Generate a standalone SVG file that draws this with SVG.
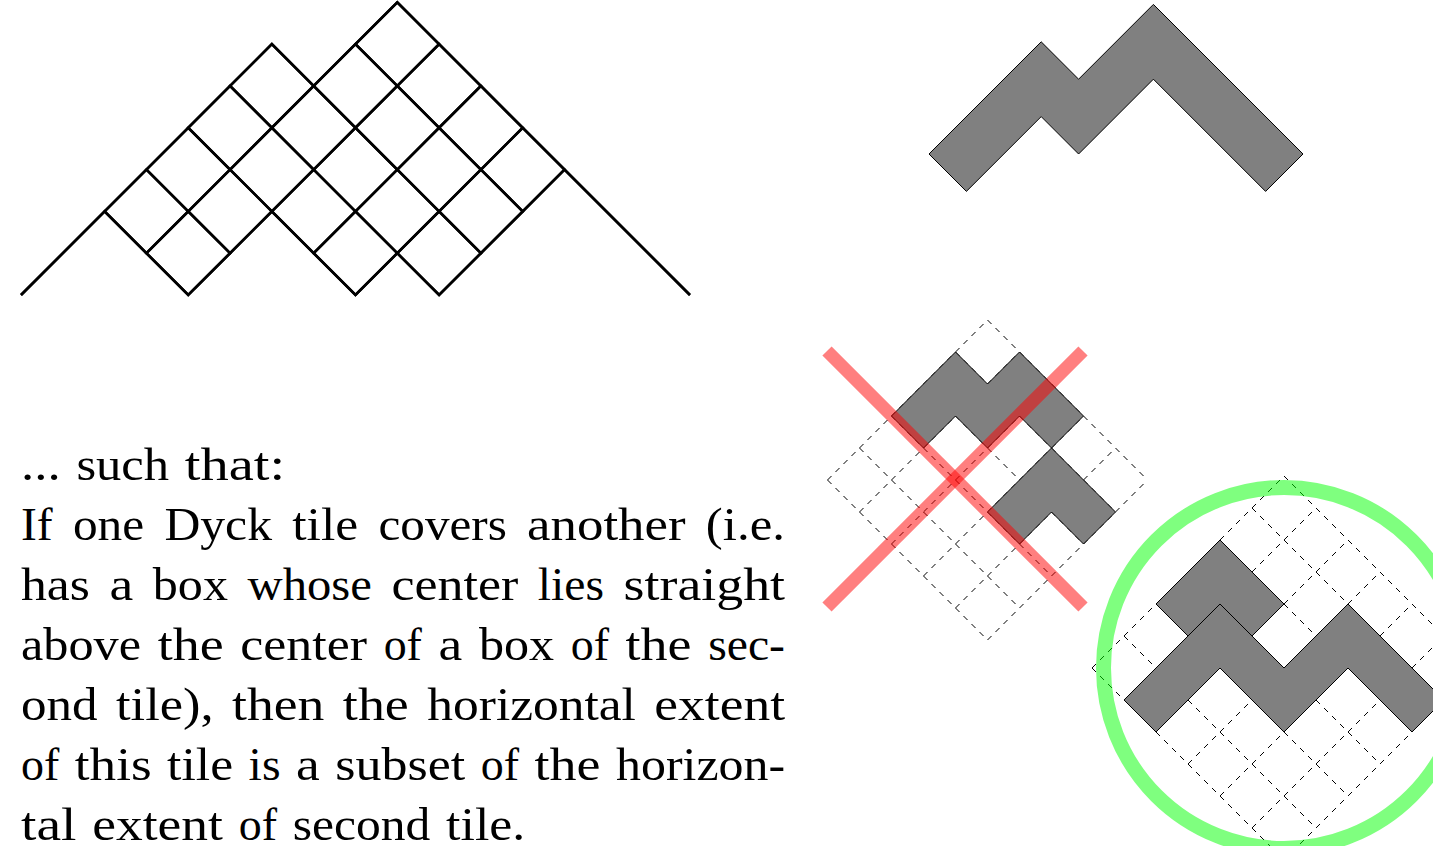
<svg xmlns="http://www.w3.org/2000/svg" width="1433" height="846" viewBox="0 0 1433 846">
<defs>
<path id="cell" d="M-41.81,0 L0,-41.81 L41.81,0 L0,41.81 Z"/>
</defs>
<style>
.lat{fill:none;stroke:#000;stroke-width:2.6;stroke-linejoin:miter;stroke-miterlimit:10}
.tile{fill:#808080;stroke:#000;stroke-width:1;stroke-linejoin:miter}
.grid{fill:none;stroke:#000;stroke-width:1;stroke-dasharray:5.657 5.657}
.cross{stroke:#ff0000;stroke-opacity:0.5;stroke-width:13;stroke-linecap:butt}
.ring{fill:none;stroke:#00ff00;stroke-opacity:0.5;stroke-width:15}
text{font-family:"Liberation Serif","Times New Roman",serif;font-size:47px;fill:#000}
</style>
<rect width="1433" height="846" fill="#fff"/>

<g id="lattice-path" class="lat">
<path d="M21,295 L271.86,44.14 L313.67,85.95 L397.29,2.33 L689.96,295"/>
<path d="M21,295 L104.62,211.38 L188.24,295 L271.86,211.38 L355.48,295 L397.29,253.19 L439.1,295 L564.53,169.57 L689.96,295"/>
<use href="#cell" x="146.43" y="211.38"/>
<use href="#cell" x="188.24" y="253.19"/>
<use href="#cell" x="188.24" y="169.57"/>
<use href="#cell" x="230.05" y="211.38"/>
<use href="#cell" x="230.05" y="127.76"/>
<use href="#cell" x="271.86" y="169.57"/>
<use href="#cell" x="271.86" y="85.95"/>
<use href="#cell" x="313.67" y="211.38"/>
<use href="#cell" x="313.67" y="127.76"/>
<use href="#cell" x="355.48" y="253.19"/>
<use href="#cell" x="355.48" y="169.57"/>
<use href="#cell" x="355.48" y="85.95"/>
<use href="#cell" x="397.29" y="211.38"/>
<use href="#cell" x="397.29" y="127.76"/>
<use href="#cell" x="397.29" y="44.14"/>
<use href="#cell" x="439.1" y="253.19"/>
<use href="#cell" x="439.1" y="169.57"/>
<use href="#cell" x="439.1" y="85.95"/>
<use href="#cell" x="480.91" y="211.38"/>
<use href="#cell" x="480.91" y="127.76"/>
<use href="#cell" x="522.72" y="169.57"/>
</g>

<g id="tile-single">
<path class="tile" d="M929,154 L1041.2,41.8 L1078.6,79.2 L1153.4,4.4 L1303,154 L1265.6,191.4 L1153.4,79.2 L1078.6,154 L1041.2,116.6 L966.4,191.4 Z"/>
</g>

<g id="bad-example">
<path class="grid" d="M827.5,480 l160,-160 M859.5,512 l160,-160 M891.5,544 l160,-160 M923.5,576 l160,-160 M955.5,608 l160,-160 M987.5,640 l160,-160 M827.5,480 l160,160 M859.5,448 l160,160 M891.5,416 l160,160 M923.5,384 l160,160 M955.5,352 l160,160 M987.5,320 l160,160"/>
<path class="tile" d="M891.5,416 L955.5,352 L987.5,384 L1019.5,352 L1083.5,416 L1051.5,448 L1019.5,416 L987.5,448 L955.5,416 L923.5,448 Z"/>
<path class="tile" d="M987.5,512 L1051.5,448 L1115.5,512 L1083.5,544 L1051.5,512 L1019.5,544 Z"/>
<line class="cross" x1="827" y1="351" x2="1083" y2="607"/>
<line class="cross" x1="827" y1="607" x2="1083" y2="351"/>
</g>

<g id="good-example">
<path class="grid" d="M1092,668 l192,-192 M1124,700 l192,-192 M1156,732 l192,-192 M1188,764 l192,-192 M1220,796 l192,-192 M1252,828 l192,-192 M1284,860 l192,-192 M1092,668 l192,192 M1124,636 l192,192 M1156,604 l192,192 M1188,572 l192,192 M1220,540 l192,192 M1252,508 l192,192 M1284,476 l192,192"/>
<path class="tile" d="M1156,604 L1220,540 L1284,604 L1252,636 L1220,604 L1188,636 Z"/>
<path class="tile" d="M1124,700 L1220,604 L1284,668 L1348,604 L1444,700 L1412,732 L1348,668 L1284,732 L1220,668 L1156,732 Z"/>
<circle class="ring" cx="1284" cy="668" r="180.5"/>
</g>

<g id="caption">
<text y="480"><tspan x="21" textLength="39.59" lengthAdjust="spacingAndGlyphs">...</tspan><tspan x="76.42" textLength="92.63" lengthAdjust="spacingAndGlyphs">such</tspan><tspan x="184.88" textLength="100.33" lengthAdjust="spacingAndGlyphs">that:</tspan></text>
<text y="540"><tspan x="21" textLength="31.67" lengthAdjust="spacingAndGlyphs">If</tspan><tspan x="72.93" textLength="71.25" lengthAdjust="spacingAndGlyphs">one</tspan><tspan x="164.44" textLength="107.54" lengthAdjust="spacingAndGlyphs">Dyck</tspan><tspan x="292.24" textLength="65.97" lengthAdjust="spacingAndGlyphs">tile</tspan><tspan x="378.47" textLength="128.38" lengthAdjust="spacingAndGlyphs">covers</tspan><tspan x="527.11" textLength="158.47" lengthAdjust="spacingAndGlyphs">another</tspan><tspan x="705.84" textLength="79.17" lengthAdjust="spacingAndGlyphs">(i.e.</tspan></text>
<text y="600"><tspan x="21" textLength="68.88" lengthAdjust="spacingAndGlyphs">has</tspan><tspan x="109.46" textLength="23.75" lengthAdjust="spacingAndGlyphs">a</tspan><tspan x="152.79" textLength="75.21" lengthAdjust="spacingAndGlyphs">box</tspan><tspan x="247.58" textLength="124.29" lengthAdjust="spacingAndGlyphs">whose</tspan><tspan x="391.45" textLength="126.8" lengthAdjust="spacingAndGlyphs">center</tspan><tspan x="537.83" textLength="66.23" lengthAdjust="spacingAndGlyphs">lies</tspan><tspan x="623.64" textLength="161.37" lengthAdjust="spacingAndGlyphs">straight</tspan></text>
<text y="660"><tspan x="21" textLength="120.07" lengthAdjust="spacingAndGlyphs">above</tspan><tspan x="157.68" textLength="65.97" lengthAdjust="spacingAndGlyphs">the</tspan><tspan x="240.26" textLength="126.8" lengthAdjust="spacingAndGlyphs">center</tspan><tspan x="383.67" textLength="38.27" lengthAdjust="spacingAndGlyphs">of</tspan><tspan x="438.55" textLength="23.75" lengthAdjust="spacingAndGlyphs">a</tspan><tspan x="478.91" textLength="75.21" lengthAdjust="spacingAndGlyphs">box</tspan><tspan x="570.73" textLength="38.27" lengthAdjust="spacingAndGlyphs">of</tspan><tspan x="625.61" textLength="65.97" lengthAdjust="spacingAndGlyphs">the</tspan><tspan x="708.19" textLength="76.78" lengthAdjust="spacingAndGlyphs">sec-</tspan></text>
<text y="720"><tspan x="21" textLength="76.53" lengthAdjust="spacingAndGlyphs">ond</tspan><tspan x="115.98" textLength="97.64" lengthAdjust="spacingAndGlyphs">tile),</tspan><tspan x="232.07" textLength="92.36" lengthAdjust="spacingAndGlyphs">then</tspan><tspan x="342.88" textLength="65.97" lengthAdjust="spacingAndGlyphs">the</tspan><tspan x="427.3" textLength="208.61" lengthAdjust="spacingAndGlyphs">horizontal</tspan><tspan x="654.36" textLength="130.63" lengthAdjust="spacingAndGlyphs">extent</tspan></text>
<text y="780"><tspan x="21" textLength="38.27" lengthAdjust="spacingAndGlyphs">of</tspan><tspan x="74.8" textLength="76.79" lengthAdjust="spacingAndGlyphs">this</tspan><tspan x="167.12" textLength="65.97" lengthAdjust="spacingAndGlyphs">tile</tspan><tspan x="248.62" textLength="31.93" lengthAdjust="spacingAndGlyphs">is</tspan><tspan x="296.08" textLength="23.75" lengthAdjust="spacingAndGlyphs">a</tspan><tspan x="335.36" textLength="129.83" lengthAdjust="spacingAndGlyphs">subset</tspan><tspan x="480.72" textLength="38.27" lengthAdjust="spacingAndGlyphs">of</tspan><tspan x="534.52" textLength="65.97" lengthAdjust="spacingAndGlyphs">the</tspan><tspan x="616.02" textLength="169.02" lengthAdjust="spacingAndGlyphs">horizon-</tspan></text>
<text y="840"><tspan x="21" textLength="55.42" lengthAdjust="spacingAndGlyphs">tal</tspan><tspan x="92.25" textLength="130.63" lengthAdjust="spacingAndGlyphs">extent</tspan><tspan x="238.71" textLength="38.27" lengthAdjust="spacingAndGlyphs">of</tspan><tspan x="292.81" textLength="137.48" lengthAdjust="spacingAndGlyphs">second</tspan><tspan x="446.12" textLength="79.17" lengthAdjust="spacingAndGlyphs">tile.</tspan></text>
</g>
</svg>
